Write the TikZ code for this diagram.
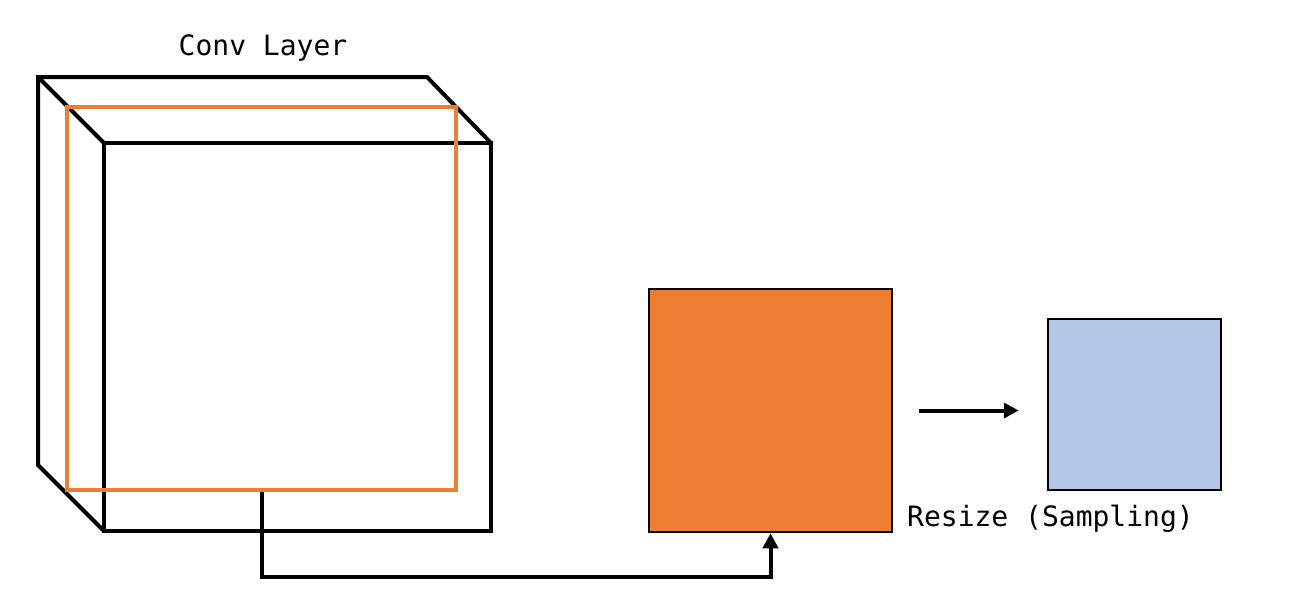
\documentclass[tikz,border=0pt]{standalone}
\usepackage{fontspec}
\setmonofont{DejaVu Sans Mono}
\usetikzlibrary{arrows.meta,calc}
\definecolor{convorange}{HTML}{ED7D31}
\definecolor{sampleblue}{HTML}{B4C7E7}
\begin{document}
\begin{tikzpicture}[x=1pt,y=-1pt,line join=miter]
  \tikzstyle{edge}=[draw=black,line width=4pt]
  \tikzstyle{square}=[draw=black,line width=2.5pt,inner sep=0pt]
  \tikzstyle{label}=[font=\ttfamily\fontsize{28}{30}\selectfont,inner sep=0pt]
  \tikzstyle{arr}=[line width=4pt,-{Triangle[length=15pt,width=15pt]}]
  \useasboundingbox (0,0) rectangle (1306,610);
  % cube
  \node[edge,inner sep=0pt,minimum width=387pt,minimum height=388pt] (front) at (297.5,337) {};
  \draw[edge] (104,531) -- (38,465) -- (38,77) -- (427,77) -- (491,143);
  \draw[edge] (38,77) -- (104,143);
  \node[draw=convorange,line width=3.5pt,inner sep=0pt,minimum width=389pt,minimum height=383pt] (orect) at (261.5,298.5) {};
  \node[label] (conv) at (263,48) {Conv Layer};
  % sampled maps
  \node[square,fill=convorange,minimum width=243pt,minimum height=243pt] (osq) at (770.5,410.5) {};
  \node[square,fill=sampleblue,minimum width=173pt,minimum height=171pt] (blue) at (1134.5,404.5) {};
  \node[label,anchor=west] (resize) at (907,519) {Resize (Sampling)};
  \draw[arr] (orect.south) -- ++(0,85) -| (osq.south);
  \draw[arr] ($(osq.east)+(26,0)$) -- ($(osq.east -| blue.west)+(-28,0)$);
\end{tikzpicture}
\end{document}
